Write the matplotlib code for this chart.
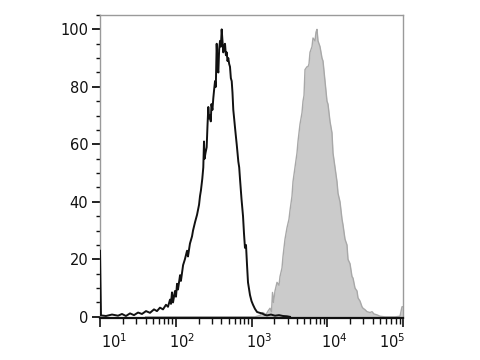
import numpy as np
import matplotlib
matplotlib.use('Agg')
import matplotlib.pyplot as plt
from matplotlib.ticker import FixedLocator, NullFormatter
from matplotlib.transforms import ScaledTranslation

# unstained / isotype control (black outline)
black_x = [10, 10.3, 12, 14.4, 17.3, 19.5, 22, 24.9, 28.1, 31.8, 35.8, 40.5, 45.7,
           51.6, 56.5, 61.9, 67.9, 74.3, 79, 84, 86.5, 89.2, 92, 97.7, 100.7, 104,
           107, 114, 117, 125, 132, 141, 145, 154, 164, 169, 180, 191, 203, 209,
           215, 224, 231, 236, 240, 247, 256, 262, 269, 276, 283, 290, 296, 305,
           313, 321, 330, 338, 347, 352, 356, 360, 365, 374, 384, 394, 404, 414,
           424, 435, 447, 459, 471, 482, 494, 507, 520, 534, 548, 561, 575, 590,
           605, 621, 638, 654, 670, 688, 705, 738, 773, 796, 820, 846, 873, 899,
           955, 1000, 1047, 1110, 1183, 1280, 1377, 1490, 1603, 1809, 2042, 2306,
           2604, 2941, 3223]
black_y = [23, 0.5, 0.3, 0.8, 0.4, 1.0, 0.3, 1.2, 0.6, 1.5, 1.0, 2.0, 1.4,
           2.6, 2.0, 3.2, 2.6, 4.2, 3.5, 6.0, 4.5, 8.5, 5.0, 9.0, 7.0, 11.5,
           9.5, 14.5, 12.5, 18, 20, 23, 21, 25.5, 28, 30, 33, 35.5, 39, 42,
           44, 48, 52, 61, 55, 57, 59, 66, 73, 69, 70, 68, 74, 72,
           76, 79, 82, 80, 95, 91, 89, 86, 85, 93, 96, 94, 100, 96,
           92, 94, 95, 91, 92, 89, 90, 88, 87, 83, 82, 78, 72, 69,
           66, 63, 60, 57, 54, 52, 48, 41, 35, 29, 24, 25, 18, 12,
           7.6, 5.5, 4.2, 2.8, 1.7, 1.4, 1.2, 0.7, 0.5, 0.8, 0.4, 0.6,
           0.3, 0.2, 0]

# stained sample (grey filled)
gray_x = [40, 1112, 1295, 1418, 1554, 1651, 1755, 1837, 1894, 1952, 2043, 2171, 2307,
          2378, 2527, 2605, 2768, 2942, 3126, 3223, 3425, 3530, 3751, 3987, 4110,
          4368, 4642, 4785, 4933, 5085, 5403, 5570, 5742, 5919, 6290, 6484, 6891,
          7103, 7322, 7548, 8022, 8524, 8788, 9339, 9924, 10230, 10870, 11550,
          11910, 12660, 13450, 13870, 14740, 15660, 16140, 17160, 18230, 18790,
          19970, 21220, 21880, 23250, 24710, 25470, 27060, 28760, 29650, 31500,
          33480, 36680, 38980, 41420, 45380, 49720, 57860, 67340, 78380, 91280,
          97010, 100000]
gray_y = [0, 0, 0.5, 1.5, 0.8, 2.0, 3.0, 1.8, 8.5, 5, 9, 12, 11,
          14, 17, 21, 27, 31, 34, 37, 42, 47, 52, 57, 61,
          67, 71, 75, 77, 86, 87, 87, 88, 92, 94, 97, 96,
          99, 100, 96, 94, 90, 89, 82, 75, 74, 68, 64,
          57, 52, 47, 43, 40, 34, 32, 27, 25, 20,
          18.5, 14, 13.5, 10, 9, 6.6, 5.5, 3.5, 3, 2.5,
          1.8, 1.5, 1.8, 1.0, 0.7, 0.2, 0, 0, 0, 0.2,
          3.5, 3.5]

x_major = [1e1, 1e2, 1e3, 1e4, 1e5]
x_labels = ['$10^{1}$', '$10^{2}$', '$10^{3}$', '$10^{4}$', '$10^{5}$']
y_major = [0, 20, 40, 60, 80, 100]

assert len(black_x) == len(black_y)
assert len(gray_x) == len(gray_y)

fig = plt.figure(figsize=(4.8, 3.6), dpi=100)
ax = fig.add_axes([100 / 480, 1 - 318 / 360, 303 / 480, 303 / 360])

ax.fill_between(gray_x, gray_y, 0, color='#cbcbcb', lw=0, zorder=1)
ax.plot(gray_x, gray_y, color='#a8a8a8', lw=1.0, zorder=2)
ax.plot(black_x, black_y, color='#111111', lw=1.4, zorder=3)

ax.set_xscale('log')
ax.set_xlim(10, 1e5)
ax.set_ylim(-0.4, 105)

ax.xaxis.set_major_locator(FixedLocator(x_major))
ax.set_xticklabels(x_labels)
minors = [m * 10 ** d for d in range(1, 5) for m in range(2, 10)]
ax.xaxis.set_minor_locator(FixedLocator(minors))
ax.xaxis.set_minor_formatter(NullFormatter())
ax.set_yticks(y_major)
ax.yaxis.set_minor_locator(FixedLocator(np.arange(0, 106, 5)))

ax.tick_params(axis='x', which='major', length=6.5, width=1.2, pad=4,
               labelsize=10.5, colors='#111111')
ax.tick_params(axis='x', which='minor', length=4, width=1.0, colors='#111111')
ax.tick_params(axis='y', which='major', length=5.5, width=1.3, pad=3,
               labelsize=10.5, colors='#111111')
ax.tick_params(axis='y', which='minor', length=3, width=1.0, colors='#111111')

# labels sit a bit off their ticks in the original
shifts = [0.14, 0.06, 0.08, 0.07, -0.11]
for lab, dx in zip(ax.get_xticklabels(), shifts):
    lab.set_transform(lab.get_transform() + ScaledTranslation(dx, 0, fig.dpi_scale_trans))

for side in ['top', 'right', 'left']:
    ax.spines[side].set_color('#9a9a9a')
    ax.spines[side].set_linewidth(1.0)
ax.spines['bottom'].set_color('#111111')
ax.spines['bottom'].set_linewidth(1.6)

fig.savefig('out.png', dpi=100)
